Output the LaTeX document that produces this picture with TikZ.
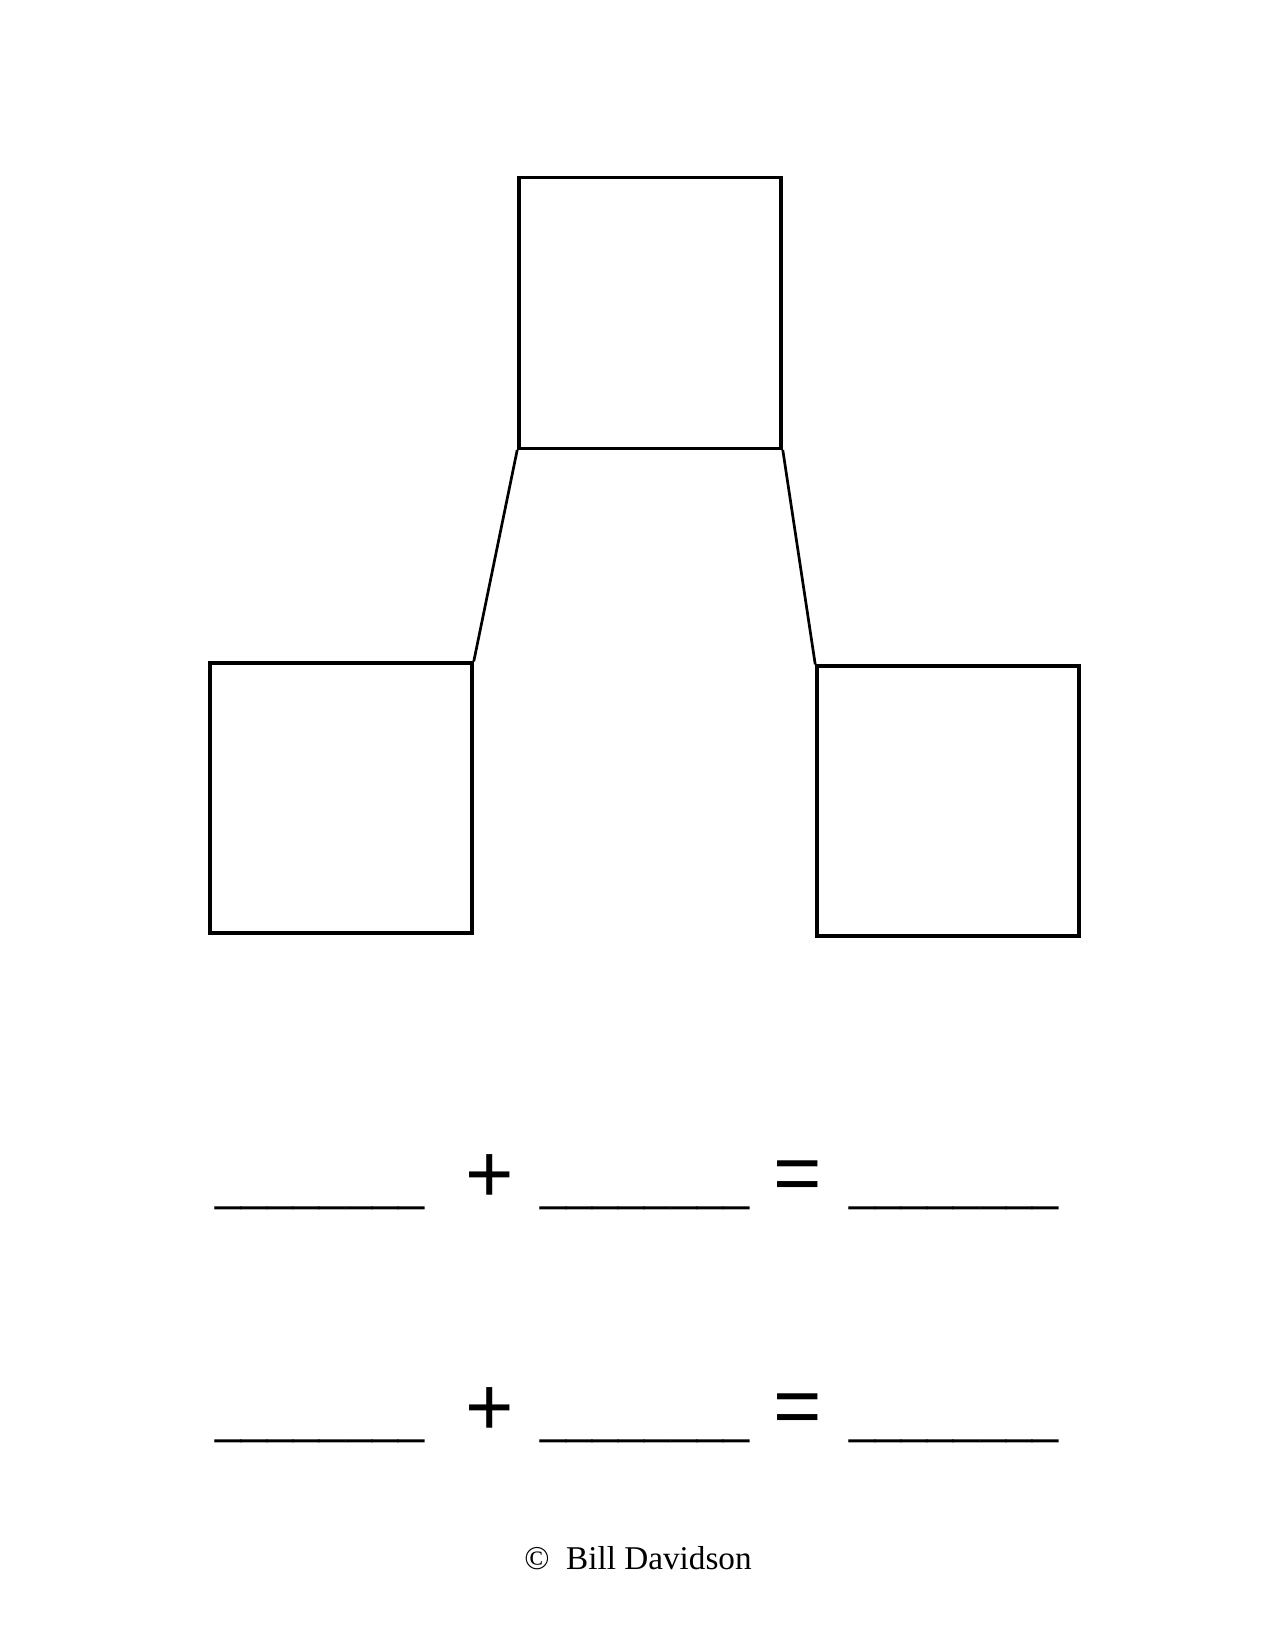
\documentclass[tikz,border=0pt]{standalone}
\usepackage{fontspec}
\setmainfont{Liberation Serif}
\newfontfamily\rowfont{Liberation Sans}
\tikzset{
  box/.style={draw, line width=1.6pt, minimum width=44.4mm, minimum height=45.8mm, inner sep=0pt},
  link/.style={line width=1.3pt},
  blank/.style={inner sep=0pt, anchor=base, font=\rowfont\fontsize{22.6}{26}\selectfont},
  sign/.style={inner sep=0pt, font=\rowfont\fontsize{40}{48}\selectfont}
}
\begin{document}
\begin{tikzpicture}[x=0.16933mm, y=-0.16933mm]
\useasboundingbox (0,0) rectangle (1275,1650);
%boxes
	\node[box] (top) at (650, 313) {};
	\node[box, minimum height=45.7mm] (left) at (341, 798) {};
	\node[box, minimum height=45.7mm] (right) at (948, 801) {};

%links
	\draw[link] (top.south west) -- (left.north east);
	\draw[link] (top.south east) -- (right.north west);

%rows
	\foreach \y/\r in {1200/one, 1433/two}{
		\node[blank] (first\r) at (320, \y) {\_\_\_\_\_\_\_\_};
		\node[blank] (second\r) at (645, \y) {\_\_\_\_\_\_\_\_};
		\node[blank] (third\r) at (954, \y) {\_\_\_\_\_\_\_\_};
		\node[sign] (plus\r) at (490, \y-21) {+};
		\node[sign] (equals\r) at (798, \y-19) {=};
	}

%copyright
	\node[font=\fontsize{16}{19}\selectfont] (copy) at (638, 1558) {©\ \ Bill Davidson};
\end{tikzpicture}
\end{document}
